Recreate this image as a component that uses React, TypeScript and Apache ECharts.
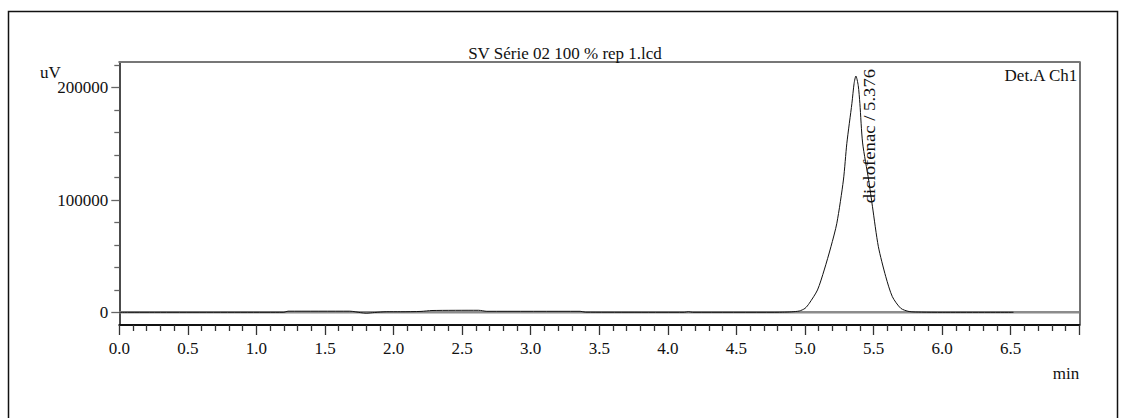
import React, { useEffect, useRef } from "react";
import * as echarts from "echarts";

const chartTitle = "SV Série 02 100 % rep 1.lcd";
const yUnit = "uV";
const xUnit = "min";
const channelLabel = "Det.A Ch1";
const peakName = "diclofenac";
const peakTime = 5.376;

// retention time (min)
const signalTimes = [
  0, 1.2, 1.23, 1.68, 1.76, 1.8, 1.86, 1.95, 2.05, 2.2, 2.28, 2.62, 2.68, 3.36, 3.4,
  4.12, 4.15, 4.18, 4.78, 4.85, 4.9, 4.958, 5.0, 5.031, 5.091, 5.14, 5.189, 5.232,
  5.28, 5.305, 5.342, 5.358, 5.371, 5.388, 5.4, 5.42, 5.464, 5.492, 5.535, 5.589,
  5.637, 5.698, 5.759, 5.85, 6.0, 6.52,
];
// detector response (uV)
const signalValues = [
  0, 0, 1000, 1000, -300, -800, -200, 500, 500, 800, 1600, 1800, 900, 900, 100,
  0, 500, 0, 0, 150, 400, 1160, 3500, 8000, 19900, 37700, 58400, 79300,
  117800, 150500, 186100, 203900, 210400, 202000, 186000, 150800, 117800, 94000, 58400, 31700,
  13900, 3600, 700, 150, 0, 0,
];
const baselineTimes = [0, 7];
const baselineValues = [0, 0];

const xTickLabels = ["0.0", "0.5", "1.0", "1.5", "2.0", "2.5", "3.0", "3.5", "4.0", "4.5", "5.0", "5.5", "6.0", "6.5"];
const yMajorTicks = [0, 100000, 200000];
const yMinorTicks = [20000, 40000, 60000, 80000, 120000, 140000, 160000, 180000, 220000];

const FONT = "Liberation Serif";
const FS = 17;

export default function App() {
  const ref = useRef<HTMLDivElement>(null);

  useEffect(() => {
    if (!ref.current) return;
    const chart = echarts.init(ref.current, null, { renderer: "svg" });
    const yMin = -11300;
    const yMax = 222900;
    const option: any = {
      animation: false,
      textStyle: { fontFamily: FONT },
      grid: { left: 119.3, right: 46.7, top: 62, bottom: 93, containLabel: false },
      title: {
        text: chartTitle,
        left: 560,
        top: 40,
        textAlign: "center",
        textStyle: { fontFamily: FONT, fontSize: FS, fontWeight: "normal", color: "#111" },
      },
      xAxis: [
        {
          type: "value",
          position: "bottom",
          min: 0,
          max: 7,
          interval: 0.5,
          axisLine: { show: true, onZero: false, lineStyle: { color: "#111", width: 2 } },
          axisTick: { show: true, length: 10, lineStyle: { color: "#333", width: 1.3 } },
          minorTick: { show: true, splitNumber: 5, length: 6, lineStyle: { color: "#333", width: 1.3 } },
          axisLabel: {
            margin: 15,
            fontSize: FS,
            color: "#111",
            fontFamily: FONT,
            showMaxLabel: false,
            formatter: (v: number) => {
              const i = Math.round(v / 0.5);
              return xTickLabels[i] ?? "";
            },
          },
          splitLine: { show: false },
          minorSplitLine: { show: false },
        },
        {
          type: "value",
          position: "top",
          min: 0,
          max: 7,
          axisLine: { show: true, onZero: false, lineStyle: { color: "#777", width: 2.2 } },
          axisTick: { show: false },
          axisLabel: { show: false },
          splitLine: { show: false },
        },
      ],
      yAxis: [
        {
          type: "value",
          position: "left",
          min: yMin,
          max: yMax,
          axisLine: { show: true, onZero: false, lineStyle: { color: "#111", width: 1.5 } },
          axisTick: { show: true, length: 8, customValues: yMajorTicks, lineStyle: { color: "#666", width: 1.3 } },
          axisLabel: {
            customValues: yMajorTicks,
            margin: 11,
            fontSize: FS,
            color: "#111",
            fontFamily: FONT,
            formatter: (v: number) => String(Math.round(v)),
          },
          splitLine: { show: false },
        },
        {
          type: "value",
          position: "left",
          min: yMin,
          max: yMax,
          axisLine: { show: false },
          axisTick: { show: true, length: 5, customValues: yMinorTicks, lineStyle: { color: "#666", width: 1.3 } },
          axisLabel: { show: false },
          splitLine: { show: false },
        },
        {
          type: "value",
          position: "right",
          min: yMin,
          max: yMax,
          axisLine: { show: true, onZero: false, lineStyle: { color: "#444", width: 1.5 } },
          axisTick: { show: false },
          axisLabel: { show: false },
          splitLine: { show: false },
        },
      ],
      series: [
        {
          name: "baseline",
          type: "line",
          xAxisIndex: 0,
          yAxisIndex: 0,
          data: baselineTimes.map((t, i) => [t, baselineValues[i]]),
          symbol: "none",
          lineStyle: { color: "#8c8c8c", width: 2.5 },
          silent: true,
        },
        {
          name: "Det.A Ch1",
          type: "line",
          xAxisIndex: 0,
          yAxisIndex: 0,
          data: signalTimes.map((t, i) => [t, signalValues[i]]),
          symbol: "none",
          smooth: 0.25,
          lineStyle: { color: "#111", width: 1 },
        },
      ],
    };
    chart.setOption(option);

    const base = chart.convertToPixel({ xAxisIndex: 0, yAxisIndex: 0 }, [peakTime, 0]) as number[];
    const right = chart.convertToPixel({ xAxisIndex: 0, yAxisIndex: 0 }, [7, 0]) as number[];
    const top = chart.convertToPixel({ xAxisIndex: 0, yAxisIndex: 0 }, [0, yMax]) as number[];
    const bottom = chart.convertToPixel({ xAxisIndex: 0, yAxisIndex: 0 }, [0, yMin]) as number[];

    chart.setOption({
      graphic: [
        {
          type: "rect",
          shape: { x: 8.5, y: 11.5, width: 1109, height: 420 },
          style: { fill: "none", stroke: "#111", lineWidth: 1.5 },
          silent: true,
        },
        {
          type: "text",
          x: 40,
          y: top[1] + 10,
          style: { text: yUnit, font: `${FS}px '${FONT}'`, fill: "#111", verticalAlign: "middle", align: "left" },
        },
        {
          type: "text",
          x: right[0] - 2,
          y: top[1] + 13,
          style: { text: channelLabel, font: `${FS}px '${FONT}'`, fill: "#111", verticalAlign: "middle", align: "right" },
        },
        {
          type: "text",
          x: right[0],
          y: bottom[1] + 48,
          style: { text: xUnit, font: `${FS}px '${FONT}'`, fill: "#111", verticalAlign: "middle", align: "right" },
        },
        {
          type: "text",
          x: base[0] + 13,
          y: base[1] - 109,
          rotation: Math.PI / 2,
          scaleX: 1.1,
          style: {
            text: `${peakName} / ${peakTime.toFixed(3)}`,
            font: `${FS}px '${FONT}'`,
            fill: "#111",
            verticalAlign: "middle",
            align: "left",
          },
        },
      ],
    });

    return () => chart.dispose();
  }, []);

  return (
    <div
      ref={ref}
      style={{ position: "absolute", left: 0, top: 0, width: 1126, height: 418, background: "#fff" }}
    />
  );
}
